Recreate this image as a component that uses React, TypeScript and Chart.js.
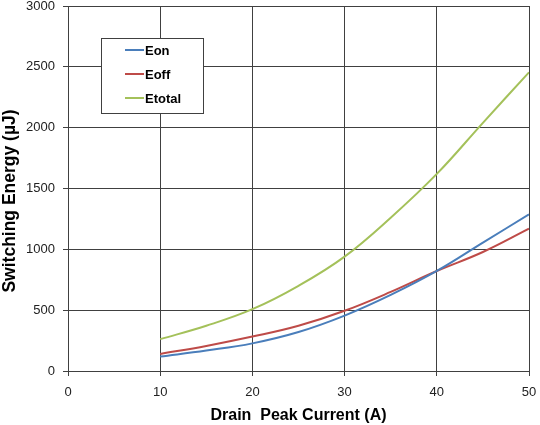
import React, { useEffect, useRef } from 'react';
import { Chart, registerables } from 'chart.js';

Chart.register(...registerables);

// drain peak current (A)
const current = [10, 15, 20, 25, 30, 35, 40, 45, 50];
// switching energy (uJ)
const eon = [119, 168, 227, 320, 455, 625, 822, 1055, 1287];
const eoff = [140, 206, 283, 372, 495, 650, 822, 978, 1170];
const etotal = [262, 372, 508, 700, 940, 1260, 1620, 2040, 2455];

const seriesNames = ['Eon', 'Eoff', 'Etotal'];
const seriesColors = ['#4A7EBB', '#BE4B48', '#A4C15A'];

const yTitle = 'Switching Energy (µJ)';
const xTitle = 'Drain  Peak Current (A)';

const FONT = '"Liberation Sans", Arial, sans-serif';

// boxed legend sitting inside the plot, like the spreadsheet one
const boxLegend = {
  id: 'boxLegend',
  afterDatasetsDraw(chart: Chart) {
    const ctx = chart.ctx;
    const x = 101.5;
    const y = 38.5;
    const w = 102;
    const h = 75;
    ctx.save();
    ctx.fillStyle = '#ffffff';
    ctx.fillRect(x, y, w, h);
    ctx.strokeStyle = '#404040';
    ctx.lineWidth = 1;
    ctx.strokeRect(x, y, w, h);
    ctx.font = `bold 13px ${FONT}`;
    ctx.textBaseline = 'middle';
    chart.data.datasets.forEach((ds, i) => {
      const ly = 50 + i * 24;
      ctx.strokeStyle = ds.borderColor as string;
      ctx.lineWidth = 2;
      ctx.beginPath();
      ctx.moveTo(125, ly);
      ctx.lineTo(144, ly);
      ctx.stroke();
      ctx.fillStyle = '#000';
      ctx.fillText(ds.label as string, 145, ly + 1);
    });
    ctx.restore();
  },
};

// y title drawn by hand: in the original it sits a bit below the plot's middle
const sideTitle = {
  id: 'sideTitle',
  afterDraw(chart: Chart) {
    const ctx = chart.ctx;
    ctx.save();
    ctx.translate(10, 201);
    ctx.rotate(-Math.PI / 2);
    ctx.font = `bold 17.5px ${FONT}`;
    ctx.fillStyle = '#000';
    ctx.textAlign = 'center';
    ctx.textBaseline = 'middle';
    ctx.fillText(yTitle, 0, 0);
    ctx.restore();
  },
};

const App: React.FC = () => {
  const canvasRef = useRef<HTMLCanvasElement>(null);

  useEffect(() => {
    const ctx = canvasRef.current?.getContext('2d');
    if (!ctx) {
      return;
    }
    const values = [eon, eoff, etotal];

    const chart = new Chart(ctx, {
      type: 'line',
      data: {
        datasets: values.map((v, i) => ({
          label: seriesNames[i],
          data: current.map((c, j) => ({ x: c, y: v[j] })),
          borderColor: seriesColors[i],
          backgroundColor: seriesColors[i],
          borderWidth: 2,
          pointRadius: 0,
          tension: 0.4,
          fill: false,
        })),
      },
      options: {
        responsive: false,
        animation: false,
        devicePixelRatio: 1,
        layout: { padding: { top: 6, right: 11, left: 0, bottom: 0 } },
        plugins: {
          legend: { display: false },
          tooltip: { enabled: false },
        },
        scales: {
          x: {
            type: 'linear',
            min: 0,
            max: 50,
            ticks: {
              stepSize: 10,
              color: '#222',
              padding: 9,
              font: { family: FONT, size: 13 },
            },
            grid: { color: '#404040', lineWidth: 1, tickLength: 5 },
            border: { color: '#404040' },
            title: {
              display: true,
              text: xTitle,
              color: '#000',
              font: { family: FONT, size: 16, weight: 'bold' },
              padding: { top: 4, bottom: 0 },
            },
            afterFit: (scale) => {
              scale.height = 54;
              scale.paddingLeft = 0;
              scale.paddingRight = 0;
            },
          },
          y: {
            min: 0,
            max: 3000,
            ticks: {
              stepSize: 500,
              color: '#222',
              padding: 8,
              font: { family: FONT, size: 13 },
              callback: (v) => String(v),
            },
            grid: { color: '#404040', lineWidth: 1, tickLength: 5 },
            border: { color: '#404040' },
            afterFit: (scale) => {
              scale.width = 68;
              scale.paddingTop = 0;
              scale.paddingBottom = 0;
            },
          },
        },
      },
      plugins: [boxLegend, sideTitle],
    });

    return () => {
      chart.destroy();
    };
  }, []);

  return (
    <div style={{ position: 'absolute', left: 0, top: 0, width: 540, height: 425, background: '#fff' }}>
      <canvas ref={canvasRef} width={540} height={425}></canvas>
    </div>
  );
};

export default App;
